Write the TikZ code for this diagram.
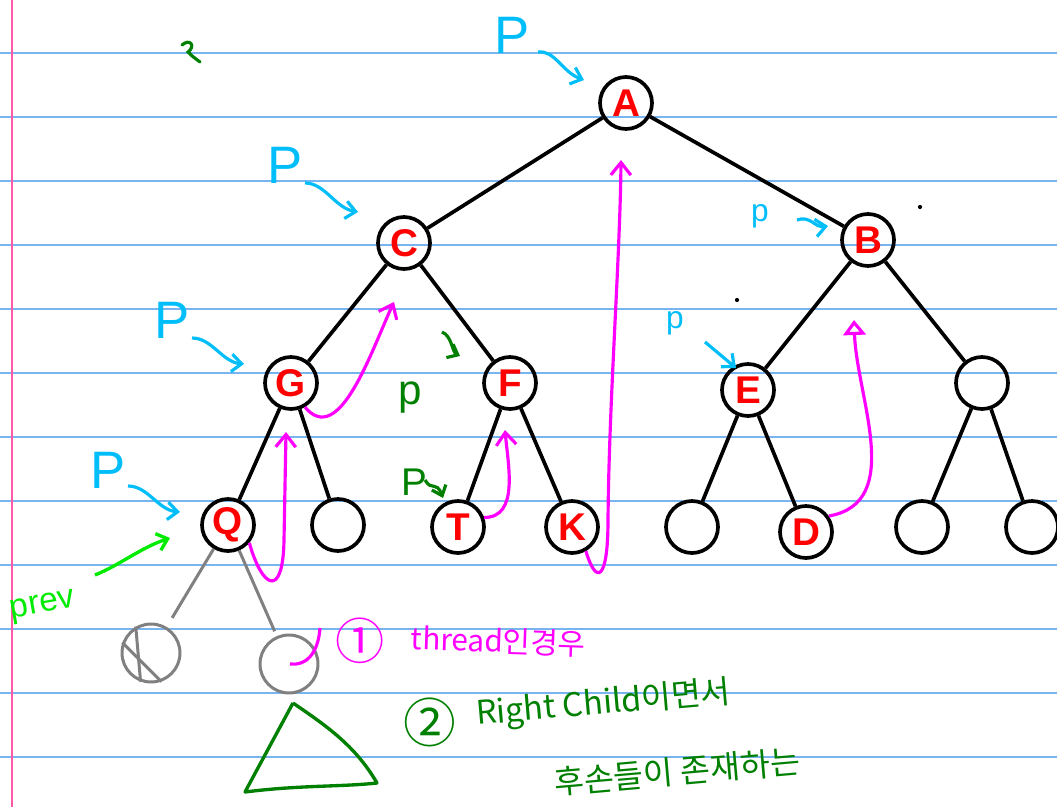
\documentclass[tikz,border=0pt]{standalone}
\usepackage{fontspec}
\setmainfont{Liberation Sans}
\newfontfamily\kr{Noto Sans CJK KR}
\usetikzlibrary{arrows.meta}
\definecolor{rulec}{RGB}{120,180,240}
\definecolor{marginc}{RGB}{255,90,170}
\definecolor{pblue}{RGB}{0,190,250}
\definecolor{dgreen}{RGB}{0,128,0}
\definecolor{lgreen}{RGB}{0,235,0}
\definecolor{mag}{RGB}{255,0,255}
\definecolor{nred}{RGB}{255,0,0}
\begin{document}
\begin{tikzpicture}[x=0.02cm,y=-0.02cm,
  tn/.style={circle,draw=black,line width=2.1pt,minimum size=1.04cm,inner sep=0pt,
    font=\fontsize{22}{22}\selectfont\bfseries, text=nred},
  tedge/.style={line width=2.1pt,black},
  gn/.style={circle,draw=gray,line width=1.7pt,minimum size=1.16cm,inner sep=0pt},
  gedge/.style={gray,line width=1.7pt},
  thr/.style={mag,line width=1.8pt,-{Straight Barb[length=2.5mm,width=4mm]}},
  plabel/.style={pblue,font=\fontsize{30}{30}\selectfont},
  parr/.style={pblue,line width=1.8pt,-{Straight Barb[length=2mm,width=3.5mm]}},
  garr/.style={dgreen,line width=1.8pt,-{Straight Barb[length=1.8mm,width=3mm]}},
]
\fill[white] (0,0) rectangle (1057,807);
\useasboundingbox (0,0) rectangle (1057,807);
% ruled paper
\foreach \yy in {53,117,...,757} \draw[rulec,line width=0.8pt] (0,\yy) -- (1057,\yy);
\draw[marginc,line width=1pt] (12,0) -- (12,807);

% tree nodes
\node[tn] (A) at (626,103) {A};
\node[tn] (C) at (404,243) {C};
\node[tn] (B) at (868,240) {B};
\node[tn] (G) at (291,383) {G};
\node[tn] (F) at (510,383) {F};
\node[tn] (E) at (748,390) {E};
\node[tn] (R) at (982,383) {};
\node[tn] (Q) at (228,525) {Q};
\node[tn] (L1) at (338,525) {};
\node[tn] (T) at (458,527) {T};
\node[tn] (K) at (572,527) {K};
\node[tn] (L2) at (692,527) {};
\node[tn] (D) at (806,532) {D};
\node[tn] (L3) at (922,527) {};
\node[tn] (L4) at (1032,527) {};

\draw[tedge] (A) -- (C);
\draw[tedge] (A) -- (B);
\draw[tedge] (C) -- (G);
\draw[tedge] (C) -- (F);
\draw[tedge] (B) -- (E);
\draw[tedge] (B) -- (R);
\draw[tedge] (G) -- (Q);
\draw[tedge] (G) -- (L1);
\draw[tedge] (F) -- (T);
\draw[tedge] (F) -- (K);
\draw[tedge] (E) -- (L2);
\draw[tedge] (E) -- (D);
\draw[tedge] (R) -- (L3);
\draw[tedge] (R) -- (L4);

% grey subtree
\node[gn] (GL) at (151,653) {};
\node[gn] (GR) at (289,664) {};
\draw[gedge] (GL.160) -- (GL.-70);
\draw[gedge] (GL.120) -- (GL.-110);
\draw[gedge,shorten >=6pt] (Q) -- (GL);
\draw[gedge,shorten >=3pt] (Q) -- (GR);

% green triangle
\coordinate (t1) at (293,703);
\coordinate (t2) at (245,792);
\coordinate (t3) at (377,783);
\draw[dgreen,line width=1.9pt,line join=round] (t1) -- (t2) .. controls (300,785) and (340,787) .. (t3) .. controls (355,745) and (325,725) .. (t1);

% threads (magenta)
\coordinate (qg) at (286,432);
\draw[thr] (Q.-40) .. controls (262,588) and (283,600) .. (284,540) -- (qg);
\coordinate (gc) at (394,302);
\draw[thr] (G.-60) to[out=-50,in=-115] (gc);
\coordinate (tf) at (505,430);
\draw[thr] (T.20) to[out=0,in=-85] (tf);
\coordinate (ka) at (621,160);
\draw[thr] (K.-60) .. controls (596,585) and (608,582) .. (608,520) .. controls (609,400) and (620,260) .. (ka);
\coordinate (db) at (854,320);
\draw[mag,line width=1.8pt,-{Triangle[open,length=3mm,width=4.5mm]}] (D.35) to[out=10,in=-88] (db);
\coordinate (h1) at (290,664);
\coordinate (h2) at (320,628);
\draw[mag,line width=1.8pt] (h1) .. controls (305,666) and (318,655) .. (h2);

% blue P markers
\node[plabel] (P1) at (512,35) {P};
\coordinate (p1s) at (538,52);
\coordinate (p1e) at (584,80);
\draw[parr] (p1s) .. controls (555,50) and (562,72) .. (p1e);
\node[plabel] (P2) at (285,165) {P};
\coordinate (p2s) at (305,183);
\coordinate (p2e) at (358,212);
\draw[parr] (p2s) .. controls (325,183) and (335,208) .. (p2e);
\node[plabel] (P3) at (172,320) {P};
\coordinate (p3s) at (192,338);
\coordinate (p3e) at (244,364);
\draw[parr] (p3s) .. controls (212,338) and (222,362) .. (p3e);
\node[plabel] (P4) at (108,470) {P};
\coordinate (p4s) at (128,486);
\coordinate (p4e) at (180,512);
\draw[parr] (p4s) .. controls (148,486) and (158,510) .. (p4e);
\node[pblue,font=\fontsize{18}{18}\selectfont] (P5) at (760,216) {p};
\coordinate (p5s) at (797,220);
\coordinate (p5e) at (828,226);
\draw[parr] (p5s) .. controls (810,215) and (815,228) .. (p5e);
\node[pblue,font=\fontsize{18}{18}\selectfont] (P6) at (675,323) {p};
\coordinate (p6s) at (705,342);
\coordinate (p6e) at (736,368);
\draw[parr] (p6s) -- (p6e);

% green marks
\coordinate (g1s) at (442,332);
\coordinate (g1e) at (460,356);
\draw[garr] (g1s) .. controls (452,336) and (452,352) .. (g1e);
\node[dgreen,font=\fontsize{24}{24}\selectfont] (gp1) at (410,398) {p};
\node[dgreen,font=\fontsize{22}{22}\selectfont] (gp2) at (414,482) {P};
\coordinate (g2s) at (425,480);
\coordinate (g2e) at (443,498);
\draw[garr] (g2s) .. controls (432,492) and (436,480) .. (g2e);
\coordinate (sq1) at (182,45);
\coordinate (sq2) at (200,62);
\draw[dgreen,line width=1.8pt,line cap=round] (sq1) .. controls (190,38) and (196,46) .. (188,52) .. controls (192,56) .. (sq2);

% prev
\node[lgreen,font=\fontsize{19}{19}\selectfont,rotate=10] (prev) at (43,607) {prev};
\coordinate (pvs) at (95,575);
\coordinate (pve) at (170,538);
\draw[lgreen,line width=1.9pt,-{Straight Barb[length=2mm,width=3.5mm]}] (pvs) .. controls (120,565) and (140,548) .. (pve);

% stray dots
\fill[black] (920,207) circle (1.2pt);
\fill[black] (737,300) circle (1.2pt);

% notes
\node[mag,font=\fontsize{28}{28}\selectfont\kr] (n1) at (360,641) {①};
\node[mag,font=\fontsize{17}{17}\selectfont\kr,anchor=west,rotate=-2] (t1txt) at (405,638) {thread인경우};
\node[dgreen,font=\fontsize{30}{30}\selectfont\kr] (n2) at (430,722) {②};
\node[dgreen,font=\fontsize{18.5}{18.5}\selectfont\kr,anchor=west,rotate=5] (t2txt) at (470,716) {Right Child이면서};
\node[dgreen,font=\fontsize{18.5}{18.5}\selectfont\kr,anchor=west,rotate=5] (t3txt) at (548,783) {후손들이 존재하는};
\end{tikzpicture}
\end{document}
